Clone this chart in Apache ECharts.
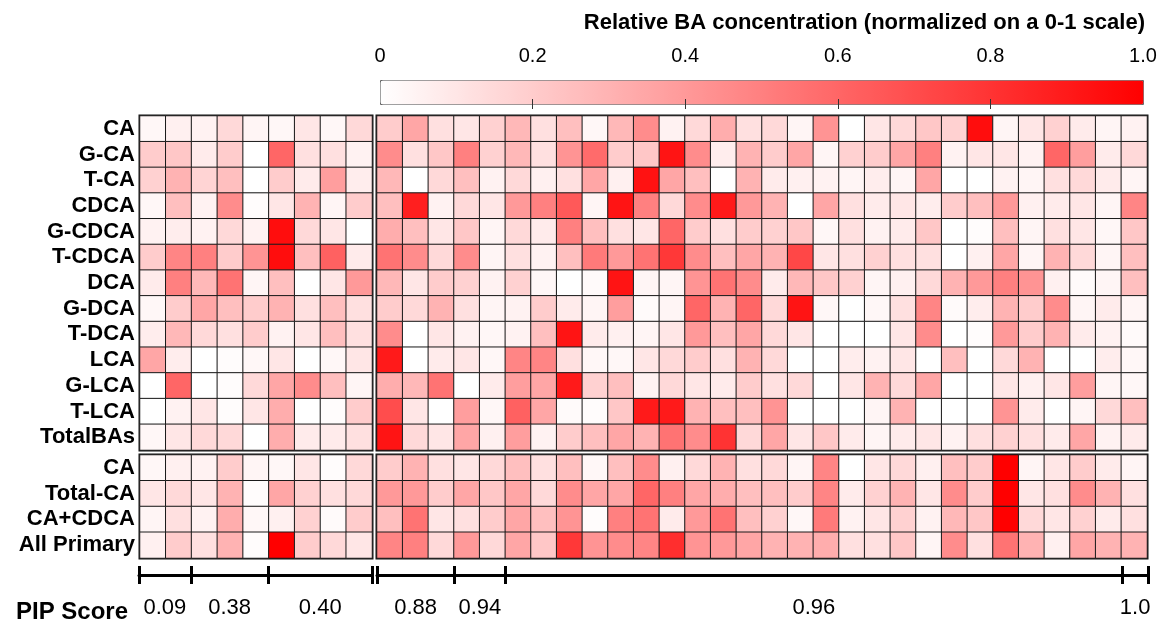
<!DOCTYPE html>
<html>
<head>
<meta charset="utf-8">
<script src="https://cdn.jsdelivr.net/npm/echarts@6/dist/echarts.min.js"></script>
<style>
  html, body { margin: 0; padding: 0; background: #fff; }
  #charts { width: 1163px; height: 621px; }
</style>
</head>
<body>
<div id="charts"></div>
<script>
// rows of the two blocks
var topRows = ['CA', 'G-CA', 'T-CA', 'CDCA', 'G-CDCA', 'T-CDCA', 'DCA', 'G-DCA', 'T-DCA', 'LCA', 'G-LCA', 'T-LCA', 'TotalBAs'];
var bottomRows = ['CA', 'Total-CA', 'CA+CDCA', 'All Primary'];

// 9 samples on the left, 30 on the right
var leftCount = 9;
var rightCount = 30;

// PIP score groups (number of samples per group)
var pipScores = ['0.09', '0.38', '0.40', '0.88', '0.94', '0.96', '1.0'];
var pipSizes = [2, 3, 4, 3, 2, 24, 1];

// colour bar ticks
var scaleTicks = [0, 0.2, 0.4, 0.6, 0.8, 1.0];

// relative concentrations, left block (9 columns)
var topLeft = [
    [0.03, 0.06, 0.05, 0.15, 0.04, 0.03, 0.10, 0.03, 0.15],
    [0.20, 0.22, 0.08, 0.20, 0.00, 0.60, 0.12, 0.12, 0.05],
    [0.18, 0.30, 0.17, 0.25, 0.00, 0.20, 0.08, 0.38, 0.07],
    [0.03, 0.25, 0.05, 0.45, 0.01, 0.10, 0.30, 0.04, 0.20],
    [0.05, 0.07, 0.05, 0.15, 0.05, 0.95, 0.15, 0.10, 0.00],
    [0.20, 0.48, 0.50, 0.20, 0.42, 0.95, 0.25, 0.62, 0.08],
    [0.08, 0.50, 0.28, 0.55, 0.04, 0.25, 0.00, 0.10, 0.40],
    [0.03, 0.20, 0.35, 0.25, 0.20, 0.30, 0.12, 0.25, 0.12],
    [0.07, 0.28, 0.15, 0.12, 0.20, 0.05, 0.10, 0.25, 0.12],
    [0.35, 0.07, 0.00, 0.01, 0.03, 0.10, 0.00, 0.03, 0.10],
    [0.00, 0.60, 0.00, 0.01, 0.15, 0.35, 0.45, 0.25, 0.04],
    [0.00, 0.05, 0.10, 0.01, 0.10, 0.32, 0.00, 0.01, 0.20],
    [0.03, 0.10, 0.15, 0.15, 0.00, 0.32, 0.08, 0.08, 0.12]
];

// right block (30 columns)
var topRight = [
    [0.20, 0.35, 0.12, 0.10, 0.18, 0.28, 0.12, 0.25, 0.03, 0.28, 0.45, 0.05, 0.15, 0.32, 0.12, 0.15, 0.04, 0.42, 0.00, 0.10, 0.15, 0.22, 0.18, 0.95, 0.04, 0.10, 0.18, 0.08, 0.04, 0.05],
    [0.45, 0.12, 0.22, 0.50, 0.18, 0.28, 0.12, 0.42, 0.58, 0.20, 0.22, 0.92, 0.45, 0.07, 0.30, 0.20, 0.35, 0.04, 0.18, 0.20, 0.35, 0.50, 0.05, 0.10, 0.10, 0.05, 0.60, 0.38, 0.08, 0.15],
    [0.28, 0.00, 0.15, 0.25, 0.05, 0.15, 0.06, 0.12, 0.35, 0.06, 0.93, 0.35, 0.25, 0.00, 0.30, 0.08, 0.06, 0.05, 0.04, 0.07, 0.04, 0.35, 0.00, 0.00, 0.05, 0.04, 0.12, 0.15, 0.08, 0.04],
    [0.25, 0.88, 0.05, 0.15, 0.10, 0.40, 0.50, 0.65, 0.04, 0.92, 0.50, 0.15, 0.45, 0.90, 0.40, 0.30, 0.00, 0.35, 0.12, 0.08, 0.10, 0.07, 0.20, 0.25, 0.40, 0.06, 0.08, 0.10, 0.04, 0.48],
    [0.32, 0.25, 0.10, 0.22, 0.04, 0.15, 0.08, 0.50, 0.25, 0.12, 0.10, 0.60, 0.20, 0.12, 0.20, 0.18, 0.22, 0.03, 0.12, 0.05, 0.08, 0.22, 0.00, 0.01, 0.25, 0.04, 0.12, 0.10, 0.03, 0.22],
    [0.55, 0.45, 0.15, 0.45, 0.04, 0.12, 0.05, 0.25, 0.52, 0.40, 0.55, 0.78, 0.45, 0.25, 0.35, 0.30, 0.72, 0.10, 0.12, 0.18, 0.12, 0.12, 0.00, 0.06, 0.35, 0.04, 0.30, 0.15, 0.04, 0.25],
    [0.28, 0.10, 0.20, 0.18, 0.05, 0.18, 0.03, 0.00, 0.02, 0.92, 0.04, 0.04, 0.42, 0.55, 0.45, 0.08, 0.28, 0.22, 0.18, 0.04, 0.06, 0.15, 0.30, 0.40, 0.50, 0.42, 0.06, 0.02, 0.04, 0.25],
    [0.20, 0.15, 0.30, 0.12, 0.04, 0.05, 0.20, 0.08, 0.04, 0.38, 0.02, 0.04, 0.60, 0.30, 0.60, 0.15, 0.92, 0.03, 0.00, 0.03, 0.12, 0.48, 0.02, 0.07, 0.30, 0.20, 0.45, 0.04, 0.08, 0.04],
    [0.45, 0.00, 0.10, 0.05, 0.03, 0.05, 0.25, 0.92, 0.08, 0.06, 0.04, 0.10, 0.40, 0.25, 0.35, 0.15, 0.10, 0.00, 0.00, 0.00, 0.10, 0.45, 0.00, 0.01, 0.40, 0.20, 0.30, 0.08, 0.05, 0.02],
    [0.90, 0.00, 0.08, 0.10, 0.03, 0.48, 0.48, 0.12, 0.03, 0.03, 0.10, 0.15, 0.20, 0.12, 0.30, 0.15, 0.00, 0.00, 0.07, 0.05, 0.10, 0.00, 0.25, 0.00, 0.15, 0.30, 0.00, 0.00, 0.07, 0.03],
    [0.32, 0.28, 0.55, 0.00, 0.08, 0.38, 0.35, 0.90, 0.18, 0.25, 0.05, 0.15, 0.10, 0.08, 0.20, 0.12, 0.15, 0.00, 0.10, 0.30, 0.15, 0.35, 0.00, 0.00, 0.10, 0.06, 0.10, 0.38, 0.04, 0.03],
    [0.70, 0.10, 0.00, 0.38, 0.03, 0.62, 0.35, 0.02, 0.01, 0.22, 0.90, 0.90, 0.30, 0.25, 0.25, 0.42, 0.00, 0.00, 0.00, 0.04, 0.30, 0.00, 0.00, 0.00, 0.42, 0.08, 0.00, 0.04, 0.15, 0.25],
    [0.92, 0.15, 0.10, 0.35, 0.06, 0.38, 0.05, 0.20, 0.25, 0.35, 0.30, 0.55, 0.45, 0.80, 0.15, 0.35, 0.10, 0.22, 0.08, 0.04, 0.08, 0.10, 0.05, 0.12, 0.18, 0.12, 0.08, 0.35, 0.05, 0.08]
];

var bottomLeft = [
    [0.03, 0.06, 0.05, 0.20, 0.04, 0.03, 0.10, 0.01, 0.15],
    [0.10, 0.15, 0.10, 0.30, 0.01, 0.35, 0.18, 0.12, 0.15],
    [0.04, 0.12, 0.05, 0.32, 0.03, 0.06, 0.18, 0.02, 0.20],
    [0.06, 0.20, 0.12, 0.30, 0.01, 1.00, 0.20, 0.15, 0.10]
];

var bottomRight = [
    [0.20, 0.30, 0.12, 0.10, 0.15, 0.25, 0.12, 0.25, 0.03, 0.25, 0.45, 0.06, 0.15, 0.30, 0.12, 0.15, 0.04, 0.48, 0.00, 0.10, 0.15, 0.06, 0.25, 0.20, 1.00, 0.04, 0.10, 0.20, 0.08, 0.04],
    [0.40, 0.40, 0.20, 0.35, 0.22, 0.35, 0.15, 0.45, 0.35, 0.35, 0.60, 0.50, 0.35, 0.32, 0.25, 0.25, 0.20, 0.48, 0.08, 0.18, 0.30, 0.10, 0.45, 0.20, 1.00, 0.10, 0.12, 0.45, 0.30, 0.12],
    [0.25, 0.55, 0.10, 0.12, 0.20, 0.35, 0.25, 0.42, 0.01, 0.50, 0.55, 0.08, 0.40, 0.55, 0.25, 0.18, 0.03, 0.52, 0.05, 0.10, 0.18, 0.05, 0.28, 0.22, 1.00, 0.15, 0.10, 0.18, 0.08, 0.12],
    [0.48, 0.50, 0.15, 0.40, 0.15, 0.35, 0.22, 0.78, 0.42, 0.45, 0.48, 0.82, 0.42, 0.40, 0.35, 0.30, 0.30, 0.32, 0.12, 0.12, 0.22, 0.04, 0.45, 0.12, 0.55, 0.30, 0.06, 0.35, 0.30, 0.30]
];

var FONT = 'Liberation Sans, Arial, sans-serif';

var myChart = echarts.init(document.getElementById('charts'));

function toCells(rows) {
    var out = [];
    rows.forEach(function (row, y) {
        row.forEach(function (v, x) { out.push([x, y, v]); });
    });
    return out;
}

function indexList(n) {
    var a = [];
    for (var i = 0; i < n; i++) a.push(String(i));
    return a;
}

// group boundaries and group centres for the PIP bracket
function pipBounds(sizes) {
    var b = [0], acc = 0;
    sizes.forEach(function (s) { acc += s; b.push(acc); });
    return b;
}
function pipCentres(sizes) {
    var c = [], acc = 0;
    sizes.forEach(function (s) { c.push(acc + s / 2); acc += s; });
    return c;
}
var leftSizes = pipSizes.slice(0, 3);
var rightSizes = pipSizes.slice(3);
var leftLabels = pipScores.slice(0, 3);
var rightLabels = pipScores.slice(3);

function pipLabel(centres, labels) {
    return function (v) {
        for (var i = 0; i < centres.length; i++) {
            if (Math.abs(centres[i] - v) < 1e-6) return labels[i];
        }
        return '';
    };
}

var GL = 140, GLW = 232, GR = 377, GRW = 770;
var GT = 116, GTH = 334, GB = 455, GBH = 103;

var gridBox = { show: true, borderColor: '#111', borderWidth: 3, backgroundColor: 'transparent' };

function cellAxis(n, gi) {
    return { type: 'category', gridIndex: gi, data: indexList(n), show: false };
}
function rowAxis(rows, gi, showLabels) {
    return {
        type: 'category', gridIndex: gi, data: rows, inverse: true,
        axisLine: { show: false }, axisTick: { show: false },
        axisLabel: {
            show: showLabels, interval: 0, color: '#000', fontSize: 22, fontWeight: 'bold',
            fontFamily: FONT, margin: 5
        }
    };
}
function pipAxes(gi, sizes, labels) {
    var bounds = pipBounds(sizes);
    var centres = pipCentres(sizes);
    var max = bounds[bounds.length - 1];
    return [{
        type: 'value', gridIndex: gi, min: 0, max: max, position: 'bottom',
        splitLine: { show: false },
        axisLine: { show: true, lineStyle: { color: '#000', width: 3 } },
        axisTick: { show: true, customValues: bounds, length: 9, lineStyle: { color: '#000', width: 3 } },
        axisLabel: {
            show: true, customValues: centres, formatter: pipLabel(centres, labels),
            color: '#000', fontSize: 22, fontFamily: FONT, margin: 22
        }
    }, {
        type: 'value', gridIndex: gi, min: 0, max: max, position: 'bottom',
        splitLine: { show: false },
        axisLine: { show: false },
        axisTick: { show: true, inside: true, customValues: bounds, length: 9, lineStyle: { color: '#000', width: 3 } },
        axisLabel: { show: false }
    }];
}
function hiddenY(gi) {
    return { type: 'value', gridIndex: gi, show: false, min: 0, max: 1 };
}

var heatStyle = { borderColor: '#1a1a1a', borderWidth: 1 };

option = {
    animation: false,
    backgroundColor: '#fff',
    title: [{
        text: 'Relative BA concentration (normalized on a 0-1 scale)',
        right: 13, top: 7,
        textStyle: { fontSize: 22, fontWeight: 'bold', color: '#000', fontFamily: FONT }
    }, {
        text: 'PIP Score',
        left: 11, top: 595,
        textStyle: { fontSize: 24, fontWeight: 'bold', color: '#000', fontFamily: FONT }
    }],
    grid: [
        Object.assign({ left: GL, top: GT, width: GLW, height: GTH }, gridBox),
        Object.assign({ left: GR, top: GT, width: GRW, height: GTH }, gridBox),
        Object.assign({ left: GL, top: GB, width: GLW, height: GBH }, gridBox),
        Object.assign({ left: GR, top: GB, width: GRW, height: GBH }, gridBox),
        { left: GL - 1, top: 574, width: GLW + 1, height: 1, show: false },
        { left: GR, top: 574, width: GRW + 1, height: 1, show: false },
        { left: 380, top: 80, width: 763, height: 24, show: false }
    ],
    xAxis: [
        cellAxis(leftCount, 0),
        cellAxis(rightCount, 1),
        cellAxis(leftCount, 2),
        cellAxis(rightCount, 3)
    ].concat(pipAxes(4, leftSizes, leftLabels))
     .concat(pipAxes(5, rightSizes, rightLabels))
     .concat([{
        type: 'value', gridIndex: 6, min: 0, max: 1, position: 'top', z: 10,
        splitLine: { show: false }, axisLine: { show: false },
        axisTick: { show: true, inside: true, customValues: scaleTicks.slice(1, 5), length: 5, lineStyle: { color: '#333' } },
        axisLabel: {
            customValues: scaleTicks, color: '#000', fontSize: 20, fontFamily: FONT, margin: 14,
            formatter: function (v) { return v === 0 ? '0' : v.toFixed(1); }
        }
     }, {
        type: 'value', gridIndex: 6, min: 0, max: 1, position: 'bottom', z: 10,
        splitLine: { show: false }, axisLine: { show: false },
        axisTick: { show: true, inside: true, customValues: scaleTicks.slice(1, 5), length: 5, lineStyle: { color: '#333' } },
        axisLabel: { show: false }
     }]),
    yAxis: [
        rowAxis(topRows, 0, true),
        rowAxis(topRows, 1, false),
        rowAxis(bottomRows, 2, true),
        rowAxis(bottomRows, 3, false),
        hiddenY(4),
        hiddenY(5),
        hiddenY(6)
    ],
    visualMap: {
        type: 'continuous',
        min: 0, max: 1,
        seriesIndex: [0, 1, 2, 3],
        orient: 'horizontal',
        left: 380, top: 80,
        itemWidth: 24, itemHeight: 763,
        padding: 0,
        calculable: false,
        text: ['', ''],
        borderColor: '#666', borderWidth: 1,
        inRange: { color: ['#ffffff', '#ff0000'] }
    },
    series: [
        { type: 'heatmap', xAxisIndex: 0, yAxisIndex: 0, data: toCells(topLeft), itemStyle: heatStyle },
        { type: 'heatmap', xAxisIndex: 1, yAxisIndex: 1, data: toCells(topRight), itemStyle: heatStyle },
        { type: 'heatmap', xAxisIndex: 2, yAxisIndex: 2, data: toCells(bottomLeft), itemStyle: heatStyle },
        { type: 'heatmap', xAxisIndex: 3, yAxisIndex: 3, data: toCells(bottomRight), itemStyle: heatStyle }
    ]
};
myChart.setOption(option);
</script>
</body>
</html>
